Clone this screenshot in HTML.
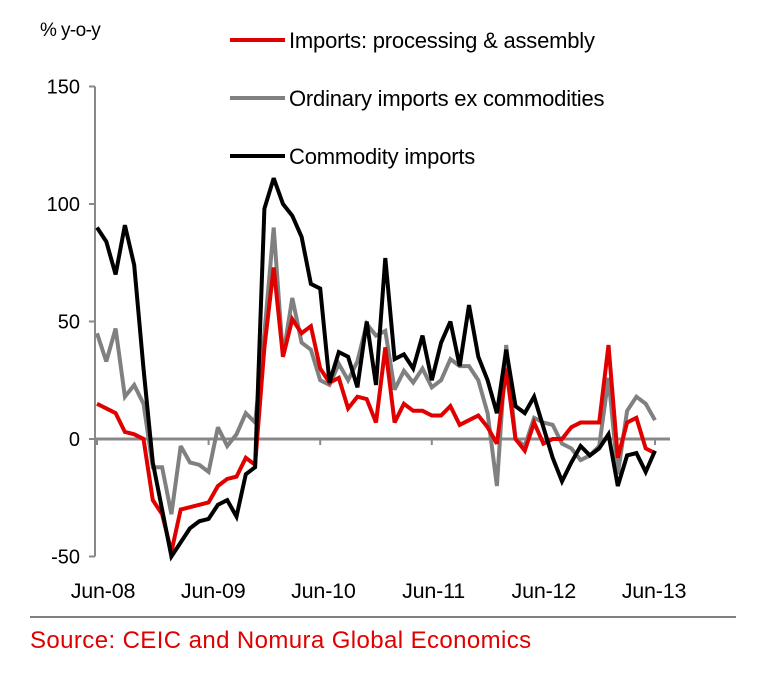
<!DOCTYPE html>
<html><head><meta charset="utf-8"><style>
body{margin:0;background:#fff;width:762px;height:668px;overflow:hidden;font-family:"Liberation Sans",Arial,sans-serif}
svg text{font-family:"Liberation Sans",Arial,sans-serif}
</style></head><body>
<svg id="chart" width="762" height="668" xmlns="http://www.w3.org/2000/svg">
<text x="40" y="36" font-size="19" letter-spacing="-0.6">% y-o-y</text>
<g id="legend"></g>
<g id="axes"></g>
<g id="series"></g>
<line x1="30" y1="617" x2="736" y2="617" stroke="#000" stroke-width="1"/>
<text x="30" y="648" font-size="24" fill="#e00000" letter-spacing="0.4">Source: CEIC and Nomura Global Economics</text>
</svg>
<script>
const yTicks=[150,100,50,0,-50];
const xLabels=["Jun-08","Jun-09","Jun-10","Jun-11","Jun-12","Jun-13"];
const seriesNames=["Imports: processing & assembly","Ordinary imports ex commodities","Commodity imports"];
const redVals=[15,13,11,3,2,0,-26,-32,-48,-30,-29,-28,-27,-20,-17,-16,-8,-11,39,73,35,51,45,48,30,24,26,13,18,17,7,39,7,15,12,12,10,10,14,6,8,10,5,-2,30,0,-5,7,-2,0,0,5,7,7,7,40,-8,7,9,-4,-6];
const greyVals=[45,33,47,18,23,15,-12,-12,-32,-3,-10,-11,-14,5,-3,2,11,7,45,90,35,60,41,38,25,23,32,25,33,49,44,46,21,29,24,30,22,25,34,31,31,25,11,-20,40,0,-3,9,7,6,-2,-4,-9,-7,-3,26,-15,12,18,15,8];
const blackVals=[90,84,70,91,74,30,-10,-30,-50,-44,-38,-35,-34,-28,-26,-33,-15,-12,98,111,100,95,86,66,64,24,37,35,22,50,23,77,34,36,30,44,25,41,50,31,57,35,25,11,38,14,11,18,5,-8,-18,-10,-3,-7,-4,2,-20,-7,-6,-14,-5];
const NS="http://www.w3.org/2000/svg";
const x0=97, dx=9.3, yZero=439, pxPer=2.35;
const xs=i=>x0+dx*i;
const ys=v=>yZero-v*pxPer;
function mk(tag,attrs,parent){const e=document.createElementNS(NS,tag);for(const k in attrs)e.setAttribute(k,attrs[k]);parent.appendChild(e);return e;}
const axes=document.getElementById('axes');
const ya=mk('line',{x1:95,y1:ys(150),x2:95,y2:ys(-50),stroke:'#888','stroke-width':2},axes);


yTicks.forEach(t=>{
 const tk=mk('line',{x1:89,y1:ys(t),x2:95,y2:ys(t),stroke:'#888','stroke-width':2},axes);
 
 
 const tx=mk('text',{x:80,y:ys(t)+7,'text-anchor':'end','font-size':20},axes);
 
 
 tx.textContent=t;
});
const xa=mk('line',{x1:95,y1:ys(0),x2:670,y2:ys(0),stroke:'#888','stroke-width':3},axes);


xLabels.forEach((l,i)=>{
 const x=xs(i*12);
 const tk=mk('line',{x1:x,y1:ys(0),x2:x,y2:ys(0)+6,stroke:'#888','stroke-width':2},axes);
 
 
 const tx=mk('text',{x:x+6-i*1.4,y:598,'text-anchor':'middle','font-size':21.5,'letter-spacing':'-0.2'},axes);
 
 
 tx.textContent=l;
});
const ser=document.getElementById('series');
const defs=[[greyVals,'#808080','series-ordinary-imports'],[redVals,'#e00000','series-processing-assembly'],[blackVals,'#000','series-commodity-imports']];
defs.forEach(([vals,col,name])=>{
 const p=mk('polyline',{points:vals.map((v,i)=>xs(i)+','+ys(v)).join(' '),fill:'none',stroke:col,'stroke-width':4,'stroke-linejoin':'miter','stroke-miterlimit':3},ser);
 
 
});
const lg=document.getElementById('legend');
const lcols=['#e00000','#808080','#000'];
const lys=[40,98,156];
seriesNames.forEach((n,i)=>{
 const l=mk('line',{x1:230,y1:lys[i],x2:285,y2:lys[i],stroke:lcols[i],'stroke-width':4},lg);
 
 
 const t=mk('text',{x:289,y:lys[i]+8,'font-size':22,'letter-spacing':'-0.2'},lg);
 
 
 t.textContent=n;
});
</script>
</body></html>
